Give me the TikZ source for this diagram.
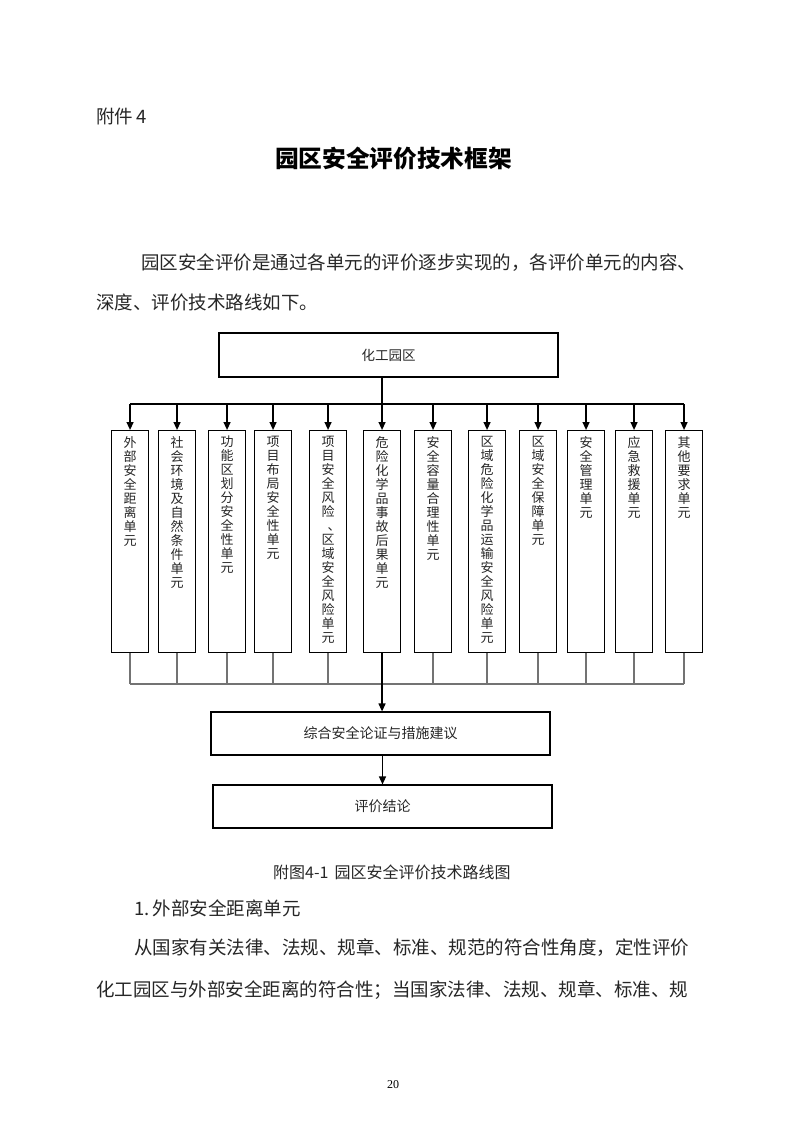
\documentclass[tikz,border=0pt]{standalone}
\usepackage{fontspec}
\newfontfamily\cjk{Noto Sans CJK SC}
\setmainfont{Liberation Serif}
\usetikzlibrary{arrows.meta}
\tikzset{
  box/.style={draw=black, line width=1.1pt, fill=white, inner sep=0pt},
  vtext/.style={font=\cjk\fontsize{13}{14}\selectfont, align=center, inner sep=0pt, anchor=north, text=black!85},
  htext/.style={font=\cjk\fontsize{13.5}{16}\selectfont, inner sep=0pt, text=black!85},
  body/.style={font=\cjk\fontsize{18.5}{20}\selectfont, inner sep=0pt, anchor=west, text=black!85},
  arr/.style={draw=black, line width=1.3pt, -{Triangle[length=8pt,width=7pt]}},
  bus/.style={draw=black, line width=1.3pt},
  gline/.style={draw=black!55, line width=1.4pt},
}
\begin{document}
\begin{tikzpicture}[x=1pt,y=-1pt]
\useasboundingbox[fill=white] (0,0) rectangle (793,1122);

% page texts
\node[body] (fj) at (96,116) {附件\,4};
\node[font=\cjk\bfseries\fontsize{23.7}{26}\selectfont, inner sep=0pt] (title) at (393.5,158) {园区安全评价技术框架};
\node[body] (p1) at (141,263) {园区安全评价是通过各单元的评价逐步实现的，各评价单元的内容、};
\node[body] (p2) at (96,302) {深度、评价技术路线如下。};

% top box
\node[box, minimum width=339pt, minimum height=44pt] (park) at (388.5,355) {};
\node[htext] (parkt) at (park.center) {化工园区};

% unit boxes
\foreach \i/\x in {1/111,2/158,3/208,4/254,5/309,6/363,7/414,8/468,9/519,10/567,11/615,12/665}{
  \node[box, minimum width=37pt, minimum height=222pt, anchor=north west] (u\i) at (\x,430) {};
}
\node[vtext] (t1) at ([yshift=-6pt]u1.north) {外\\部\\安\\全\\距\\离\\单\\元};
\node[vtext] (t2) at ([yshift=-6pt]u2.north) {社\\会\\环\\境\\及\\自\\然\\条\\件\\单\\元};
\node[vtext] (t3) at ([yshift=-6pt]u3.north) {功\\能\\区\\划\\分\\安\\全\\性\\单\\元};
\node[vtext] (t4) at ([yshift=-6pt]u4.north) {项\\目\\布\\局\\安\\全\\性\\单\\元};
\node[vtext] (t5) at ([yshift=-6pt]u5.north) {项\\目\\安\\全\\风\\险\\\makebox[13pt][l]{\hspace{6pt}、}\\区\\域\\安\\全\\风\\险\\单\\元};
\node[vtext] (t6) at ([yshift=-6pt]u6.north) {危\\险\\化\\学\\品\\事\\故\\后\\果\\单\\元};
\node[vtext] (t7) at ([yshift=-6pt]u7.north) {安\\全\\容\\量\\合\\理\\性\\单\\元};
\node[vtext] (t8) at ([yshift=-6pt]u8.north) {区\\域\\危\\险\\化\\学\\品\\运\\输\\安\\全\\风\\险\\单\\元};
\node[vtext] (t9) at ([yshift=-6pt]u9.north) {区\\域\\安\\全\\保\\障\\单\\元};
\node[vtext] (t10) at ([yshift=-6pt]u10.north) {安\\全\\管\\理\\单\\元};
\node[vtext] (t11) at ([yshift=-6pt]u11.north) {应\\急\\救\\援\\单\\元};
\node[vtext] (t12) at ([yshift=-6pt]u12.north) {其\\他\\要\\求\\单\\元};

% upper bus
\coordinate (busT) at (0,404);
\draw[bus] (u1.north |- busT) -- (u12.north |- busT);
\draw[arr] (park.south -| u6.north) -- (u6.north);
\foreach \i in {1,2,3,4,5,7,8,9,10,11,12}{
  \draw[arr] (u\i.north |- busT) -- (u\i.north);
}

% lower boxes
\node[box, minimum width=339pt, minimum height=43pt] (synth) at (380.5,733.5) {};
\node[htext, font=\cjk\fontsize{14}{16}\selectfont] (synt) at (synth.center) {综合安全论证与措施建议};
\node[box, minimum width=339pt, minimum height=43pt] (concl) at (382.5,806.5) {};
\node[htext, font=\cjk\fontsize{14}{16}\selectfont] (conct) at (concl.center) {评价结论};

% lower bus
\coordinate (busB) at (0,684);
\foreach \i in {1,2,3,4,5,7,8,9,10,11,12}{
  \draw[gline] (u\i.south) -- (u\i.south |- busB);
}
\draw[gline] (u1.south |- busB) -- (u12.south |- busB);
\draw[bus] (u6.south) -- (u6.south |- busB);
\draw[arr] (u6.south |- busB) -- (u6.south |- synth.north);
\draw[arr] (synth.south -| concl.north) -- (concl.north);

% caption and following text
\node[font=\cjk\fontsize{16}{18}\selectfont, inner sep=0pt, anchor=west, text=black!85] (cap) at (273,872) {附图4-1\hspace{6pt}园区安全评价技术路线图};
\node[body] (h1) at (134,908) {1.\,外部安全距离单元};
\node[body] (p3) at (134,948) {从国家有关法律、法规、规章、标准、规范的符合性角度，定性评价};
\node[body] (p4) at (96,990) {化工园区与外部安全距离的符合性；当国家法律、法规、规章、标准、规};
\node[font=\fontsize{12}{14}\selectfont, inner sep=0pt] (pg) at (393,1085) {20};
\end{tikzpicture}
\end{document}
